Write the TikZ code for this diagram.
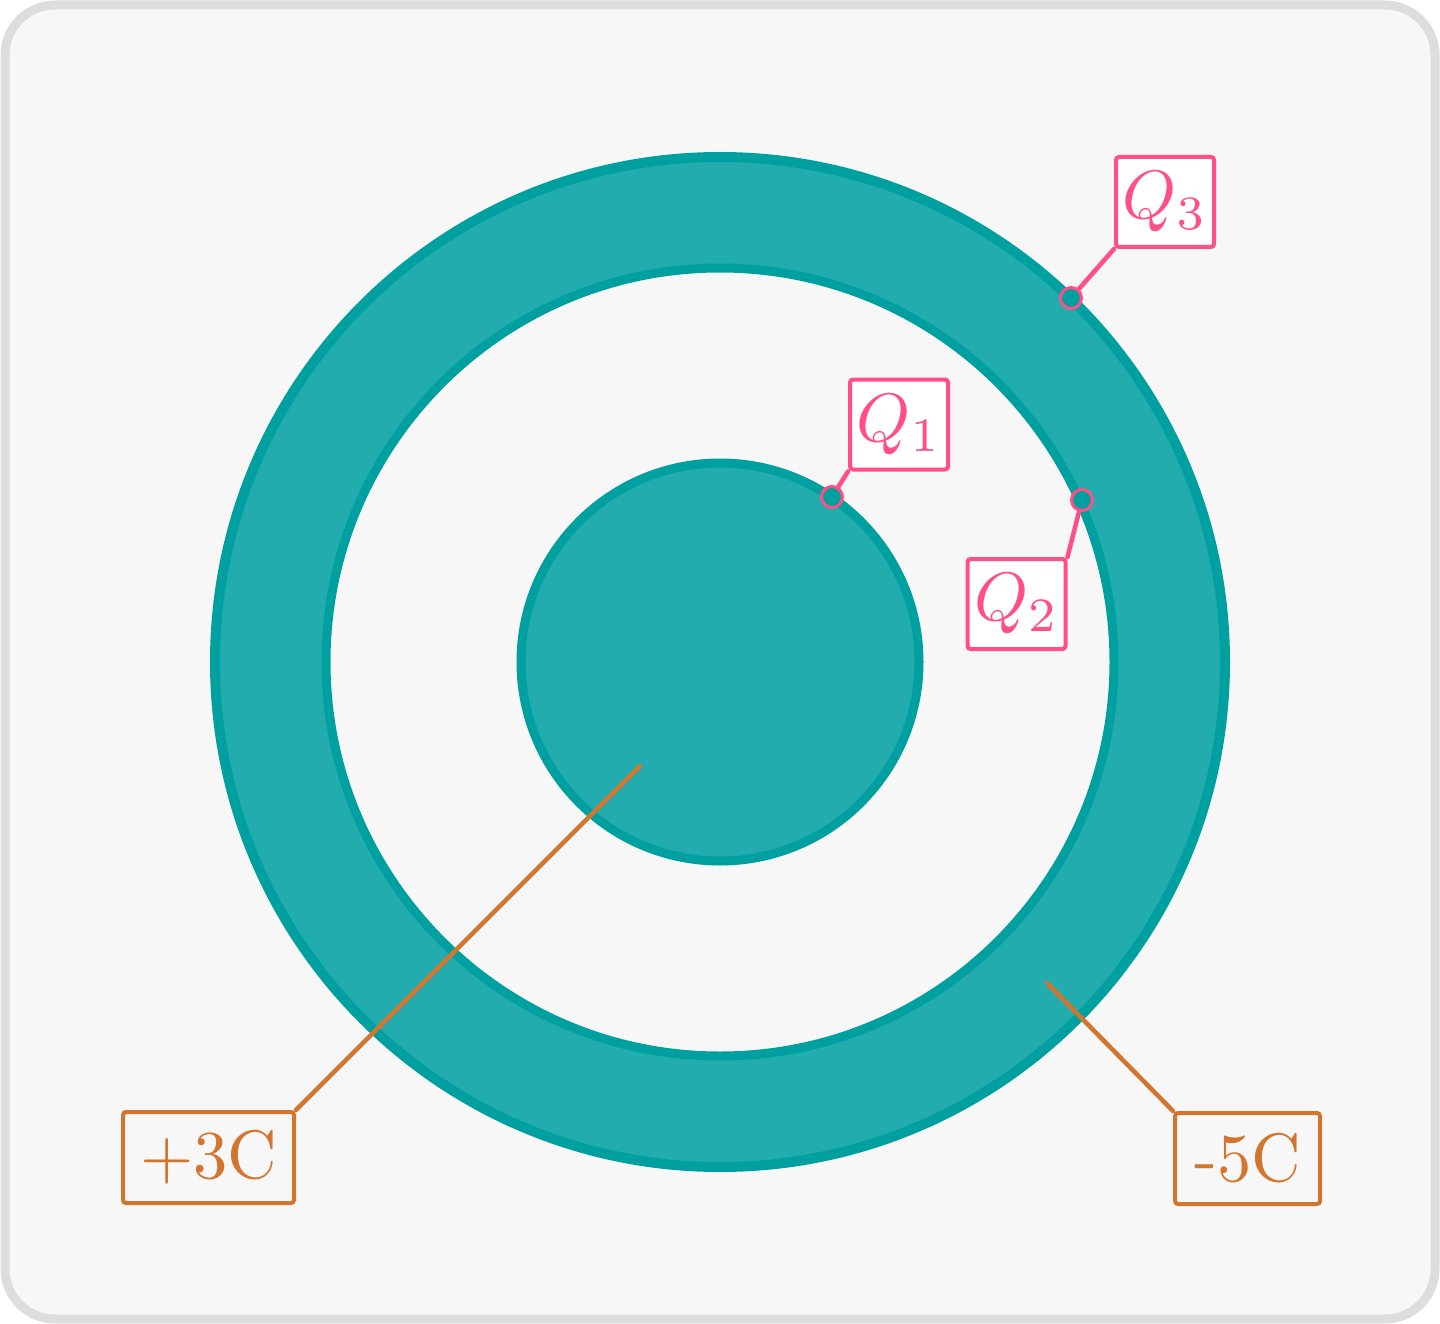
\documentclass[tikz,border=0pt]{standalone}
\usepackage{graphicx}
\definecolor{bgfill}{HTML}{F7F7F7}
\definecolor{bgdraw}{HTML}{DDDDDD}
\definecolor{tealfill}{HTML}{22ACAE}
\definecolor{tealdraw}{HTML}{00A0A0}
\definecolor{qpink}{HTML}{FF4F86}
\definecolor{corange}{HTML}{D2752E}
\newcommand{\bigtxt}[1]{\scalebox{6.85}{#1}}
\tikzset{
  qbox/.style={draw=qpink, fill=white, line width=4pt, rounded corners=3pt,
    minimum width=98pt, minimum height=90pt, inner sep=0pt, text=qpink},
  cbox/.style={draw=corange, fill=bgfill, line width=4pt, rounded corners=3pt,
    minimum height=91pt, inner sep=0pt, text=corange},
  qdot/.style={circle, draw=qpink, fill=tealdraw, line width=3pt, minimum size=21pt, inner sep=0pt},
  qline/.style={draw=qpink, line width=4.5pt, line cap=round},
  cline/.style={draw=corange, line width=4.5pt, line cap=round},
}
\begin{document}
\begin{tikzpicture}[x=1pt,y=-1pt]
\useasboundingbox (0,0) rectangle (1440,1324);
\draw[fill=bgfill, draw=bgdraw, line width=9pt, rounded corners=50pt] (5,5) rectangle (1435,1319);
\coordinate (C) at (720,662);
% outer ring
\fill[tealfill, even odd rule] (C) circle[radius=505pt] (C) circle[radius=394pt];
\draw[tealdraw, line width=10pt] (C) circle[radius=505pt];
\draw[tealdraw, line width=9pt] (C) circle[radius=394pt];
% inner disk
\draw[tealdraw, fill=tealfill, line width=9pt] (C) circle[radius=199pt];
% charge labels
\coordinate (pin3) at (640,766);
\coordinate (pin5) at (1047,983);
\node[cbox, minimum width=171pt] (c3) at (208.5,1157.5) {\bigtxt{+3C}};
\node[cbox, minimum width=145pt] (c5) at (1247.5,1158.5) {\bigtxt{-5C}};
\draw[cline] (pin3) -- (c3.north east);
\draw[cline] (pin5) -- (c5.north west);
% Q labels
\node[qdot] (d1) at (832,497) {};
\node[qdot] (d2) at (1082,500) {};
\node[qdot] (d3) at (1071,298) {};
\node[qbox] (q1) at (899,424.5) {\bigtxt{$Q_1$}};
\node[qbox] (q2) at (1016.5,604) {\bigtxt{$Q_2$}};
\node[qbox] (q3) at (1165,202) {\bigtxt{$Q_3$}};
\draw[qline] (d1) -- (q1.south west);
\draw[qline] (d2) -- (q2.north east);
\draw[qline] (d3) -- (q3.south west);
\end{tikzpicture}
\end{document}
